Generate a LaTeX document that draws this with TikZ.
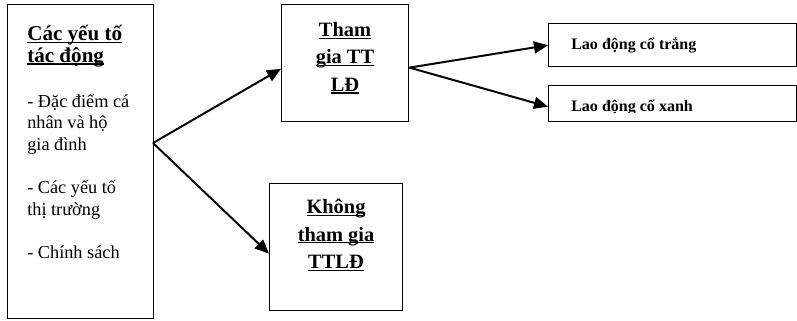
\documentclass[tikz,border=0pt]{standalone}
\usepackage{fontspec}
\setmainfont{Liberation Serif}
\usepackage{tikz}
\usetikzlibrary{arrows.meta,positioning}
\newcommand{\undl}[1]{\leavevmode\setbox0\hbox{#1}\rlap{\rule[-1.6pt]{\wd0}{0.8pt}}\box0}

\begin{document}
\begin{tikzpicture}[x=0.025cm, y=-0.025cm, >={Triangle[length=10pt,width=8.5pt]},
  box/.style={draw, line width=1pt, inner sep=0pt, anchor=north west},
  arr/.style={->, line width=1.4pt},
  mid/.style={font=\fontsize{14.5}{19.5}\selectfont\bfseries, align=center, inner sep=0pt},
  small/.style={font=\fontsize{11.4}{13}\selectfont\bfseries, anchor=base west, inner sep=0pt}]
\useasboundingbox (0,0) rectangle (797,321);
% khung
\node[box, minimum width=3.65cm, minimum height=7.85cm] (lbox) at (7,4) {};
\node[box, minimum width=3.175cm, minimum height=2.925cm] (tbox) at (281,4) {};
\node[box, minimum width=3.325cm, minimum height=3.175cm] (bbox) at (269,183) {};
\node[box, minimum width=6.2cm, minimum height=1.075cm] (wbox) at (548,23) {};
\node[box, minimum width=6.2cm, minimum height=0.9cm] (xbox) at (548,85) {};
% chữ
\node[anchor=north west, inner sep=0pt, align=left,
  font=\fontsize{13}{15.4}\selectfont] (ltext) at (27,25)
  {{\fontsize{15}{15.4}\selectfont\bfseries\undl{Các yếu tố}}\\
   {\fontsize{15}{15.4}\selectfont\bfseries\undl{tác động}}\\[16.5pt]
   - Đặc điểm cá\\nhân và hộ\\gia đình\\[15.4pt]
   - Các yếu tố\\thị trường\\[15.4pt]
   - Chính sách};
\node[mid] (ttext) at (345,58) {\undl{Tham}\\\undl{gia TT}\\\undl{LĐ}};
\node[mid] (btext) at (336,235) {\undl{Không}\\\undl{tham gia}\\\undl{TTLĐ}};
\node[small] (wtext) at (571,50) {Lao động cổ trắng};
\begin{scope}
  \clip (548,85) rectangle (796,112.8);
  \node[small] (xtext) at (571,112) {Lao động cổ xanh};
\end{scope}
% mũi tên
\coordinate (fork) at (153,143);
\draw[arr] (fork) -- ([yshift=-0.14cm]tbox.west);
\draw[arr] (fork) -- ([yshift=-0.16cm]bbox.west);
\draw[arr] ([yshift=-0.11cm]tbox.east) -- (wbox.west);
\draw[arr] ([yshift=-0.11cm]tbox.east) -- ([yshift=-0.075cm]xbox.west);
\end{tikzpicture}
\end{document}
